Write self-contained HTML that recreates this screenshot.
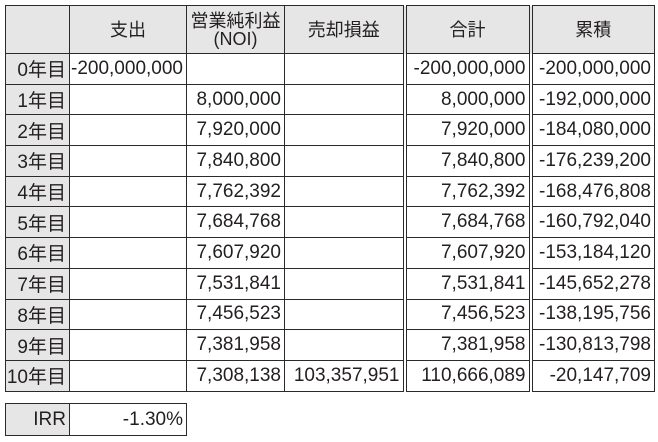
<!DOCTYPE html>
<html><head><meta charset="utf-8"><style>
body{margin:0;width:658px;height:442px;background:#fff;overflow:hidden;font-family:"Liberation Sans","Noto Sans CJK JP",sans-serif;color:#231f20}
table{position:absolute;border-collapse:collapse;table-layout:fixed}
td{border:1.5px solid #2a2a2a;padding:0 3px 0 0;font-size:19px;text-align:right;white-space:nowrap;overflow:visible}
td.h{background:#e6e6e6;text-align:center;padding:0;line-height:18px;font-size:18px}
td.r{background:#e6e6e6}
.d{border-left:4px double #2a2a2a}
#t{left:5px;top:5px}
#t tr{height:30.7px}
#t tr.hd{height:48px}
#irr{left:5px;top:403px}
#irr tr{height:32px}
</style></head><body>
<table id="t">
<colgroup><col style="width:64px"><col style="width:117px"><col style="width:98px"><col style="width:120px"><col style="width:126px"><col style="width:124px"></colgroup>
<tr class="hd"><td class="h"></td><td class="h">支出</td><td class="h">営業純利益<br>(NOI)</td><td class="h">売却損益</td><td class="h d">合計</td><td class="h d">累積</td></tr>
<tr><td class="r">0年目</td><td>-200,000,000</td><td></td><td></td><td class="d">-200,000,000</td><td class="d">-200,000,000</td></tr>
<tr><td class="r">1年目</td><td></td><td>8,000,000</td><td></td><td class="d">8,000,000</td><td class="d">-192,000,000</td></tr>
<tr><td class="r">2年目</td><td></td><td>7,920,000</td><td></td><td class="d">7,920,000</td><td class="d">-184,080,000</td></tr>
<tr><td class="r">3年目</td><td></td><td>7,840,800</td><td></td><td class="d">7,840,800</td><td class="d">-176,239,200</td></tr>
<tr><td class="r">4年目</td><td></td><td>7,762,392</td><td></td><td class="d">7,762,392</td><td class="d">-168,476,808</td></tr>
<tr><td class="r">5年目</td><td></td><td>7,684,768</td><td></td><td class="d">7,684,768</td><td class="d">-160,792,040</td></tr>
<tr><td class="r">6年目</td><td></td><td>7,607,920</td><td></td><td class="d">7,607,920</td><td class="d">-153,184,120</td></tr>
<tr><td class="r">7年目</td><td></td><td>7,531,841</td><td></td><td class="d">7,531,841</td><td class="d">-145,652,278</td></tr>
<tr><td class="r">8年目</td><td></td><td>7,456,523</td><td></td><td class="d">7,456,523</td><td class="d">-138,195,756</td></tr>
<tr><td class="r">9年目</td><td></td><td>7,381,958</td><td></td><td class="d">7,381,958</td><td class="d">-130,813,798</td></tr>
<tr><td class="r">10年目</td><td></td><td>7,308,138</td><td>103,357,951</td><td class="d">110,666,089</td><td class="d">-20,147,709</td></tr>
</table>
<table id="irr">
<colgroup><col style="width:64px"><col style="width:117px"></colgroup>
<tr><td class="r">IRR</td><td>-1.30%</td></tr>
</table>
</body></html>
